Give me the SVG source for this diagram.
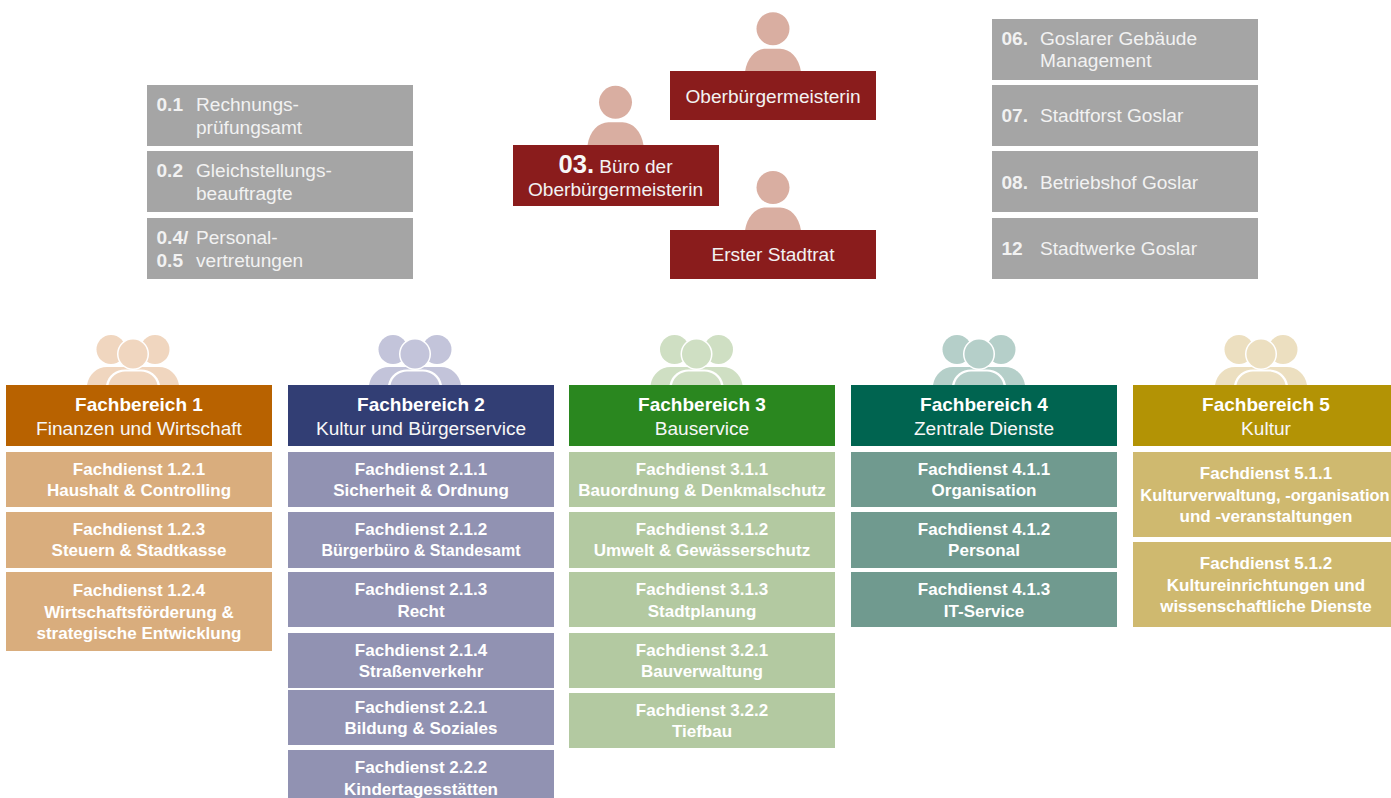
<svg xmlns="http://www.w3.org/2000/svg" width="1391" height="798" viewBox="0 0 1391 798">
<style>
text{font-family:"Liberation Sans",Arial,sans-serif;fill:#fff}
.m{text-anchor:middle}
.g{fill:#a5a5a5}.r{fill:#8a1c1c}.p{fill:#d9aea1}
.t{font-size:19.1px;fill:#f2f2f2}
.n{font-size:19.1px;font-weight:bold;fill:#f2f2f2}
.h{font-size:19px;font-weight:bold}
.s{font-size:19.1px;fill:#f7f7f7}
.f{font-size:17px;font-weight:bold}
.c1{fill:#b86200}.l1{fill:#d9ad7d}.i1{fill:#f0d6bf}
.c2{fill:#323e74}.l2{fill:#9192b2}.i2{fill:#c3c4da}
.c3{fill:#2a871f}.l3{fill:#b3c9a1}.i3{fill:#cfdfc3}
.c4{fill:#006450}.l4{fill:#709a8f}.i4{fill:#b5cfc9}
.c5{fill:#b39305}.l5{fill:#cfb96f}.i5{fill:#ecdfc0}
</style>
<defs>
<g id="person"><circle cx="0" cy="-42" r="16.5"/><path d="M-28 1C-26 -13 -17 -22 -7 -22H7C17 -22 26 -13 28 1Z"/></g>
<g id="team"><circle cx="-22" cy="-35.500" r="14.500"/><circle cx="22" cy="-35.500" r="14.500"/><path d="M-46 0C-44 -11 -36 -18 -26 -18H26C36 -18 44 -11 46 0Z"/><circle cx="0" cy="-31" r="16" fill="#fff"/><path d="M-27 0C-25 -10 -17 -15.500 -8 -15.500H8C17 -15.500 25 -10 27 0Z" fill="#fff"/><circle cx="0" cy="-31" r="14.500"/><path d="M-24.500 0C-23 -8.500 -15 -13.500 -8 -13.500H8C15 -13.500 23 -8.500 24.500 0Z"/></g>
</defs>
<g id="stab-01"><rect class="g" x="147" y="85" width="266" height="61"/><text class="n" x="156.500" y="111">0.1</text><text class="t" x="196" y="111">Rechnungs-</text><text class="t" x="196" y="134">prüfungsamt</text></g>
<g id="stab-02"><rect class="g" x="147" y="151" width="266" height="61"/><text class="n" x="156.500" y="177">0.2</text><text class="t" x="196" y="177">Gleichstellungs-</text><text class="t" x="196" y="200">beauftragte</text></g>
<g id="stab-04"><rect class="g" x="147" y="218" width="266" height="61"/><text class="n" x="156.500" y="244">0.4/</text><text class="n" x="156.500" y="267">0.5</text><text class="t" x="196" y="244">Personal-</text><text class="t" x="196" y="267">vertretungen</text></g>
<g id="ob"><use href="#person" class="p" x="773" y="70.700"/><rect class="r" x="670" y="71" width="206" height="49"/><text class="t m" x="773" y="103">Oberbürgermeisterin</text></g>
<g id="buero"><use href="#person" class="p" x="615.500" y="144.300"/><rect class="r" x="513" y="145" width="206" height="61"/><text class="t m" x="615.500" y="173"><tspan font-size="25.600" font-weight="bold" fill="#f7f7f7">03.</tspan> Büro der</text><text class="t m" x="615.500" y="196">Oberbürgermeisterin</text></g>
<g id="stadtrat"><use href="#person" class="p" x="773" y="229.500"/><rect class="r" x="670" y="230" width="206" height="49"/><text class="t m" x="773" y="261">Erster Stadtrat</text></g>
<g id="stab-06"><rect class="g" x="992" y="19" width="266" height="61"/><text class="n" x="1001.500" y="45">06.</text><text class="t" x="1040" y="45">Goslarer Gebäude</text><text class="t" x="1040" y="67">Management</text></g>
<g id="stab-07"><rect class="g" x="992" y="85" width="266" height="61"/><text class="n" x="1001.500" y="122">07.</text><text class="t" x="1040" y="122">Stadtforst Goslar</text></g>
<g id="stab-08"><rect class="g" x="992" y="151" width="266" height="61"/><text class="n" x="1001.500" y="189">08.</text><text class="t" x="1040" y="189">Betriebshof Goslar</text></g>
<g id="stab-12"><rect class="g" x="992" y="218" width="266" height="61"/><text class="n" x="1001.500" y="255">12</text><text class="t" x="1040" y="255">Stadtwerke Goslar</text></g>
<g id="connectors"></g>
<g id="fb1"><use href="#team" class="i1" x="133" y="385"/><rect class="c1" x="6" y="385" width="266" height="61"/><text class="h m" x="139" y="411">Fachbereich 1</text><text class="s m" x="139" y="435">Finanzen und Wirtschaft</text></g>
<g id="fd121"><rect class="l1" x="6" y="452" width="266" height="55"/><text class="f m" x="139" y="475">Fachdienst 1.2.1</text><text class="f m" x="139" y="496">Haushalt &amp; Controlling</text></g>
<g id="fd123"><rect class="l1" x="6" y="512" width="266" height="56"/><text class="f m" x="139" y="535">Fachdienst 1.2.3</text><text class="f m" x="139" y="556">Steuern &amp; Stadtkasse</text></g>
<g id="fd124"><rect class="l1" x="6" y="572" width="266" height="79"/><text class="f m" x="139" y="596">Fachdienst 1.2.4</text><text class="f m" x="139" y="618">Wirtschaftsförderung &amp;</text><text class="f m" x="139" y="639">strategische Entwicklung</text></g>
<g id="fb2"><use href="#team" class="i2" x="415" y="385"/><rect class="c2" x="288" y="385" width="266" height="61"/><text class="h m" x="421" y="411">Fachbereich 2</text><text class="s m" x="421" y="435">Kultur und Bürgerservice</text></g>
<g id="fd211"><rect class="l2" x="288" y="452" width="266" height="55"/><text class="f m" x="421" y="475">Fachdienst 2.1.1</text><text class="f m" x="421" y="496">Sicherheit &amp; Ordnung</text></g>
<g id="fd212"><rect class="l2" x="288" y="512" width="266" height="56"/><text class="f m" x="421" y="535">Fachdienst 2.1.2</text><text class="f m" x="421" y="556" style="font-size:16px">Bürgerbüro &amp; Standesamt</text></g>
<g id="fd213"><rect class="l2" x="288" y="572" width="266" height="55"/><text class="f m" x="421" y="595">Fachdienst 2.1.3</text><text class="f m" x="421" y="617">Recht</text></g>
<g id="fd214"><rect class="l2" x="288" y="633" width="266" height="55"/><text class="f m" x="421" y="656">Fachdienst 2.1.4</text><text class="f m" x="421" y="677">Straßenverkehr</text></g>
<g id="fd221"><rect class="l2" x="288" y="690" width="266" height="55"/><text class="f m" x="421" y="713">Fachdienst 2.2.1</text><text class="f m" x="421" y="734">Bildung &amp; Soziales</text></g>
<g id="fd222"><rect class="l2" x="288" y="750" width="266" height="48"/><text class="f m" x="421" y="773">Fachdienst 2.2.2</text><text class="f m" x="421" y="795">Kindertagesstätten</text></g>
<g id="fb3"><use href="#team" class="i3" x="696.500" y="385"/><rect class="c3" x="569" y="385" width="266" height="61"/><text class="h m" x="702" y="411">Fachbereich 3</text><text class="s m" x="702" y="435">Bauservice</text></g>
<g id="fd311"><rect class="l3" x="569" y="452" width="266" height="55"/><text class="f m" x="702" y="475">Fachdienst 3.1.1</text><text class="f m" x="702" y="496">Bauordnung &amp; Denkmalschutz</text></g>
<g id="fd312"><rect class="l3" x="569" y="512" width="266" height="56"/><text class="f m" x="702" y="535">Fachdienst 3.1.2</text><text class="f m" x="702" y="556">Umwelt &amp; Gewässerschutz</text></g>
<g id="fd313"><rect class="l3" x="569" y="572" width="266" height="55"/><text class="f m" x="702" y="595">Fachdienst 3.1.3</text><text class="f m" x="702" y="617">Stadtplanung</text></g>
<g id="fd321"><rect class="l3" x="569" y="633" width="266" height="55"/><text class="f m" x="702" y="656">Fachdienst 3.2.1</text><text class="f m" x="702" y="677">Bauverwaltung</text></g>
<g id="fd322"><rect class="l3" x="569" y="693" width="266" height="55"/><text class="f m" x="702" y="716">Fachdienst 3.2.2</text><text class="f m" x="702" y="737">Tiefbau</text></g>
<g id="fb4"><use href="#team" class="i4" x="979" y="385"/><rect class="c4" x="851" y="385" width="266" height="61"/><text class="h m" x="984" y="411">Fachbereich 4</text><text class="s m" x="984" y="435">Zentrale Dienste</text></g>
<g id="fd411"><rect class="l4" x="851" y="452" width="266" height="55"/><text class="f m" x="984" y="475">Fachdienst 4.1.1</text><text class="f m" x="984" y="496">Organisation</text></g>
<g id="fd412"><rect class="l4" x="851" y="512" width="266" height="56"/><text class="f m" x="984" y="535">Fachdienst 4.1.2</text><text class="f m" x="984" y="556">Personal</text></g>
<g id="fd413"><rect class="l4" x="851" y="572" width="266" height="55"/><text class="f m" x="984" y="595">Fachdienst 4.1.3</text><text class="f m" x="984" y="617">IT-Service</text></g>
<g id="fb5"><use href="#team" class="i5" x="1261" y="385"/><rect class="c5" x="1133" y="385" width="258" height="61"/><text class="h m" x="1266" y="411">Fachbereich 5</text><text class="s m" x="1266" y="435">Kultur</text></g>
<g id="fd511"><rect class="l5" x="1133" y="452" width="258" height="85"/><text class="f m" x="1266" y="479">Fachdienst 5.1.1</text><text class="f m" x="1265" y="501" style="font-size:16.500px">Kulturverwaltung, -organisation</text><text class="f m" x="1266" y="522">und -veranstaltungen</text></g>
<g id="fd512"><rect class="l5" x="1133" y="542" width="258" height="85"/><text class="f m" x="1266" y="569">Fachdienst 5.1.2</text><text class="f m" x="1266" y="591">Kultureinrichtungen und</text><text class="f m" x="1266" y="612">wissenschaftliche Dienste</text></g>
</svg>
